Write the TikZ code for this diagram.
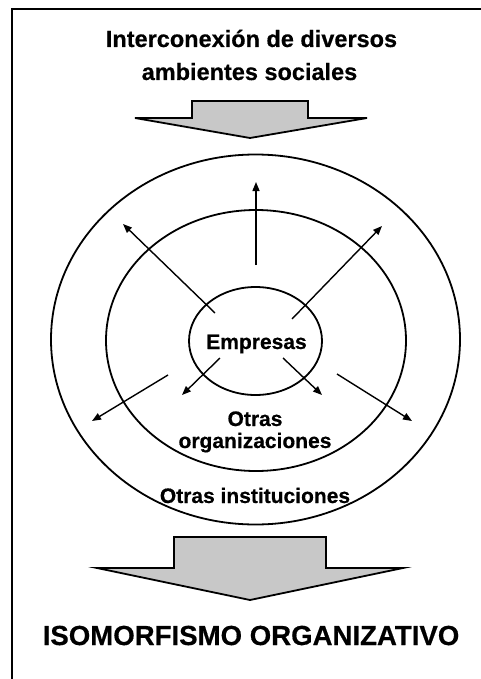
\documentclass[tikz,border=0pt]{standalone}
\usepackage{fontspec}
\setmainfont{Liberation Sans}[BoldFeatures={FakeBold=0.5}]
\usetikzlibrary{shapes.geometric,arrows.meta}
\definecolor{blockgray}{RGB}{200,200,200}
\tikzset{
  ring/.style={draw, ellipse, line width=1.8bp, inner sep=0pt},
  lbl/.style={font=\bfseries\fontsize{21bp}{22bp}\selectfont, inner sep=0pt, anchor=base, align=center},
  toplbl/.style={font=\bfseries\fontsize{23.5bp}{25bp}\selectfont, inner sep=0pt, anchor=base},
  bigl/.style={font=\bfseries\fontsize{27.6bp}{30bp}\selectfont, inner sep=0pt, anchor=base},
  ray/.style={line width=1.4bp, -{Triangle[length=9bp,width=7bp]}},
  blockarrow/.style={draw, line width=1.8bp, fill=blockgray, line join=miter}
}
\begin{document}
\begin{tikzpicture}[x=1bp,y=-1bp]
\useasboundingbox (0,0) rectangle (481,679);
% frame (top and left edges)
\draw[line width=2bp] (481,9) -- (12,9) -- (12,679);
% titles
\node[toplbl] (t1) at (251.5,47) {Interconexión de diversos};
\node[toplbl] (t2) at (249.5,80) {ambientes sociales};
% top block arrow
\draw[blockarrow] (192,101) -- (308,101) -- (308,118) -- (367,118) -- (250,138) -- (135,118) -- (192,118) -- cycle;
% rings
\node[ring, minimum width=409bp, minimum height=370bp] (outer) at (255.5,339.5) {};
\node[ring, minimum width=300bp, minimum height=261bp] (middle) at (256,340.5) {};
\node[ring, minimum width=133bp, minimum height=108bp] (inner) at (255.5,341) {};
% labels
\node[lbl] (emp) at (256.5,349) {Empresas};
\node[lbl] (otras) at (255,426) {Otras};
\node[lbl] (org) at (255,448) {organizaciones};
\node[lbl] (inst) at (255,503) {Otras instituciones};
% rays
\coordinate (ulA) at (215,313); \coordinate (ulB) at (123,224);
\coordinate (urA) at (292,319); \coordinate (urB) at (382,226);
\coordinate (upA) at (256,265); \coordinate (upB) at (256,182);
\coordinate (lliA) at (220,358); \coordinate (lliB) at (182,395);
\coordinate (lriA) at (283,358); \coordinate (lriB) at (322,395);
\coordinate (lloA) at (168,375); \coordinate (lloB) at (92,421);
\coordinate (lroA) at (337,374); \coordinate (lroB) at (412,421);
\draw[ray] (ulA) -- (ulB);
\draw[ray] (urA) -- (urB);
\draw[ray] (upA) -- (upB);
\draw[ray] (lliA) -- (lliB);
\draw[ray] (lriA) -- (lriB);
\draw[ray] (lloA) -- (lloB);
\draw[ray] (lroA) -- (lroB);
% bottom block arrow
\draw[blockarrow] (174,537) -- (326,537) -- (326,568) -- (403,568) -- (250,600) -- (97,568) -- (174,568) -- cycle;
% result
\node[bigl] (iso) at (251,645) {ISOMORFISMO ORGANIZATIVO};
\end{tikzpicture}
\end{document}
